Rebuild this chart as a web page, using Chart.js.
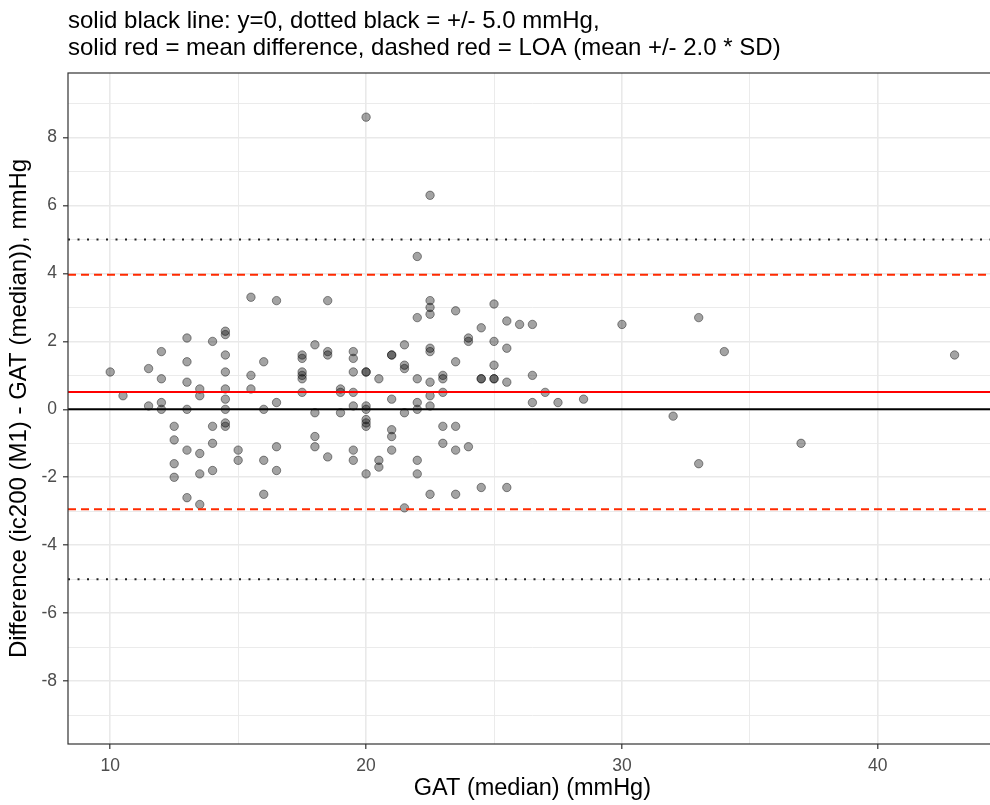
<!DOCTYPE html>
<html>
<head>
<meta charset="utf-8">
<script src="https://cdn.jsdelivr.net/npm/chart.js@4/dist/chart.umd.min.js"></script>
<style>
  html, body { margin: 0; padding: 0; background: #fff; overflow: hidden; }
  #wrap { width: 1002px; height: 805px; }
</style>
</head>
<body>
<div id="wrap"><canvas id="chart"></canvas></div>
<script>
// GAT (median) per eye, and the matching difference ic200 - GAT
const gatValues = [
  10, 10.5, 11.5, 11.5, 12, 12, 12, 12,
  12.5, 12.5, 12.5, 12.5,
  13, 13, 13, 13, 13, 13,
  13.5, 13.5, 13.5, 13.5, 13.5,
  14, 14, 14, 14,
  14.5, 14.5, 14.5, 14.5, 14.5, 14.5, 14.5, 14.5, 14.5,
  15, 15,
  15.5, 15.5, 15.5,
  16, 16, 16, 16,
  16.5, 16.5, 16.5, 16.5,
  17.5, 17.5, 17.5, 17.5, 17.5, 17.5,
  18, 18, 18, 18,
  18.5, 18.5, 18.5, 18.5,
  19, 19, 19,
  19.5, 19.5, 19.5, 19.5, 19.5, 19.5, 19.5,
  20, 20, 20, 20, 20, 20, 20, 20, 20,
  20.5, 20.5, 20.5,
  21, 21, 21, 21, 21, 21,
  21.5, 21.5, 21.5, 21.5, 21.5,
  22, 22, 22, 22, 22, 22, 22,
  22.5, 22.5, 22.5, 22.5, 22.5, 22.5, 22.5, 22.5, 22.5, 22.5,
  23, 23, 23, 23, 23,
  23.5, 23.5, 23.5, 23.5, 23.5,
  24, 24, 24,
  24.5, 24.5, 24.5, 24.5,
  25, 25, 25, 25, 25,
  25.5, 25.5, 25.5, 25.5,
  26, 26.5, 26.5, 26.5, 27, 27.5, 28.5,
  30, 32, 33, 33, 34, 37, 43
];
const diffValues = [
  1.1, 0.4, 1.2, 0.1, 1.7, 0.9, 0.2, 0.0,
  -0.5, -0.9, -1.6, -2.0,
  2.1, 1.4, 0.8, 0.0, -1.2, -2.6,
  0.6, 0.4, -1.3, -1.9, -2.8,
  2.0, -0.5, -1.0, -1.8,
  2.3, 2.2, 1.6, 1.1, 0.6, 0.3, 0.0, -0.4, -0.5,
  -1.2, -1.5,
  3.3, 1.0, 0.6,
  1.4, 0.0, -1.5, -2.5,
  3.2, 0.2, -1.1, -1.8,
  1.6, 1.5, 1.1, 1.0, 0.9, 0.5,
  1.9, -0.1, -0.8, -1.1,
  3.2, 1.7, 1.6, -1.4,
  0.6, 0.5, -0.1,
  1.7, 1.5, 1.1, 0.5, 0.1, -1.2, -1.5,
  8.6, 1.1, 1.1, 0.1, 0.0, -0.3, -0.4, -0.5, -1.9,
  0.9, -1.5, -1.7,
  1.6, 1.6, 0.3, -0.6, -0.8, -1.2,
  1.9, 1.3, 1.2, -0.1, -2.9,
  4.5, 2.7, 0.9, 0.2, 0.0, -1.5, -1.9,
  6.3, 3.2, 3.0, 2.8, 1.8, 1.7, 0.8, 0.4, 0.1, -2.5,
  1.0, 0.9, 0.5, -0.5, -1.0,
  2.9, 1.4, -0.5, -1.2, -2.5,
  2.1, 2.0, -1.1,
  2.4, 0.9, 0.9, -2.3,
  3.1, 2.0, 1.3, 0.9, 0.9,
  2.6, 1.8, 0.8, -2.3,
  2.5, 2.5, 1.0, 0.2, 0.5, 0.2, 0.3,
  2.5, -0.2, 2.7, -1.6, 1.7, -1.0, 1.6
];

// reference lines
const meanDiff = 0.51;
const loaLower = -2.94;
const loaUpper = 3.96;
const clinicalLimit = 5.0;

// axes
const xRange = [8.35, 44.65];
const yRange = [-9.85, 9.9];
const xGridValues = [10, 15, 20, 25, 30, 35, 40];
const xTickLabels = [10, 20, 30, 40];
const yGridValues = [-9, -8, -7, -6, -5, -4, -3, -2, -1, 0, 1, 2, 3, 4, 5, 6, 7, 8, 9];
const yTickLabels = [-8, -6, -4, -2, 0, 2, 4, 6, 8];

const titleLines = [
  "solid black line: y=0, dotted black = +/- 5.0 mmHg,",
  "solid red = mean difference, dashed red = LOA (mean +/- 2.0 * SD)"
];

const FONT = "'Liberation Sans', Arial, Helvetica, sans-serif";

function hline(y, color, dash, width) {
  return {
    type: "line",
    data: [{ x: xRange[0], y: y }, { x: xRange[1], y: y }],
    borderColor: color,
    borderWidth: width,
    borderDash: dash,
    pointRadius: 0,
    fill: false
  };
}

const points = gatValues.map((g, i) => ({ x: g, y: diffValues[i] }));

// title text + panel border, ggplot style
const panelPlugin = {
  id: "panel",
  afterDraw(chart) {
    const { ctx, chartArea } = chart;
    ctx.save();
    ctx.strokeStyle = "#333333";
    ctx.lineWidth = 1.2;
    ctx.strokeRect(chartArea.left, chartArea.top, chartArea.right - chartArea.left, chartArea.bottom - chartArea.top);
    ctx.fillStyle = "#000";
    ctx.font = "24px " + FONT;
    ctx.textBaseline = "alphabetic";
    ctx.textAlign = "left";
    ctx.fillText(titleLines[0], chartArea.left, 28);
    ctx.fillText(titleLines[1], chartArea.left, 55);
    ctx.restore();
  }
};

const isMajor = (list, c) => list.includes(c.tick && c.tick.value);

new Chart(document.getElementById("chart"), {
  type: "scatter",
  data: {
    datasets: [
      hline(0, "#000000", [], 2),
      hline(meanDiff, "#ff0000", [], 2),
      hline(loaUpper, "#ff2a00", [8, 5], 2),
      hline(loaLower, "#ff2a00", [8, 5], 2),
      hline(clinicalLimit, "#222222", [2, 7.5], 2),
      hline(-clinicalLimit, "#222222", [2, 7.5], 2),
      {
        type: "scatter",
        data: points,
        backgroundColor: "rgba(0,0,0,0.36)",
        borderColor: "rgba(0,0,0,0.42)",
        borderWidth: 1,
        pointRadius: 4.2,
        pointHoverRadius: 4.2
      }
    ]
  },
  options: {
    responsive: true,
    maintainAspectRatio: false,
    animation: false,
    layout: { padding: { top: 73, right: 0, left: 0, bottom: 0 } },
    plugins: { legend: { display: false }, tooltip: { enabled: false } },
    scales: {
      x: {
        type: "linear",
        min: xRange[0],
        max: xRange[1],
        afterBuildTicks: s => { s.ticks = xGridValues.map(v => ({ value: v })); },
        afterFit: s => { s.height = 61; },
        border: { display: false },
        grid: {
          color: "#e9e9e9",
          lineWidth: c => (isMajor(xTickLabels, c) ? 1.6 : 0.9),
          tickColor: c => (isMajor(xTickLabels, c) ? "#333333" : "rgba(0,0,0,0)"),
          tickLength: 5,
          tickWidth: 1.2
        },
        ticks: {
          autoSkip: false,
          maxRotation: 0,
          padding: 7,
          color: "#4d4d4d",
          font: { family: FONT, size: 17.5 },
          callback: v => (xTickLabels.includes(v) ? String(v) : "")
        },
        title: {
          display: true,
          text: "GAT (median) (mmHg)",
          color: "#000",
          font: { family: FONT, size: 23.5 },
          padding: { top: 0, bottom: 2 }
        }
      },
      y: {
        type: "linear",
        min: yRange[0],
        max: yRange[1],
        afterBuildTicks: s => { s.ticks = yGridValues.map(v => ({ value: v })); },
        afterFit: s => { s.width = 68; },
        border: { display: false },
        grid: {
          color: "#e9e9e9",
          lineWidth: c => (isMajor(yTickLabels, c) ? 1.6 : 0.9),
          tickColor: c => (isMajor(yTickLabels, c) ? "#333333" : "rgba(0,0,0,0)"),
          tickLength: 5,
          tickWidth: 1.2
        },
        ticks: {
          autoSkip: false,
          padding: 6,
          color: "#4d4d4d",
          font: { family: FONT, size: 17.5 },
          callback: v => (yTickLabels.includes(v) ? String(v) : "")
        },
        title: {
          display: true,
          text: "Difference (ic200 (M1) - GAT (median)), mmHg",
          color: "#000",
          font: { family: FONT, size: 24 },
          padding: { top: 5, bottom: 0 }
        }
      }
    }
  },
  plugins: [panelPlugin]
});
</script>
</body>
</html>
